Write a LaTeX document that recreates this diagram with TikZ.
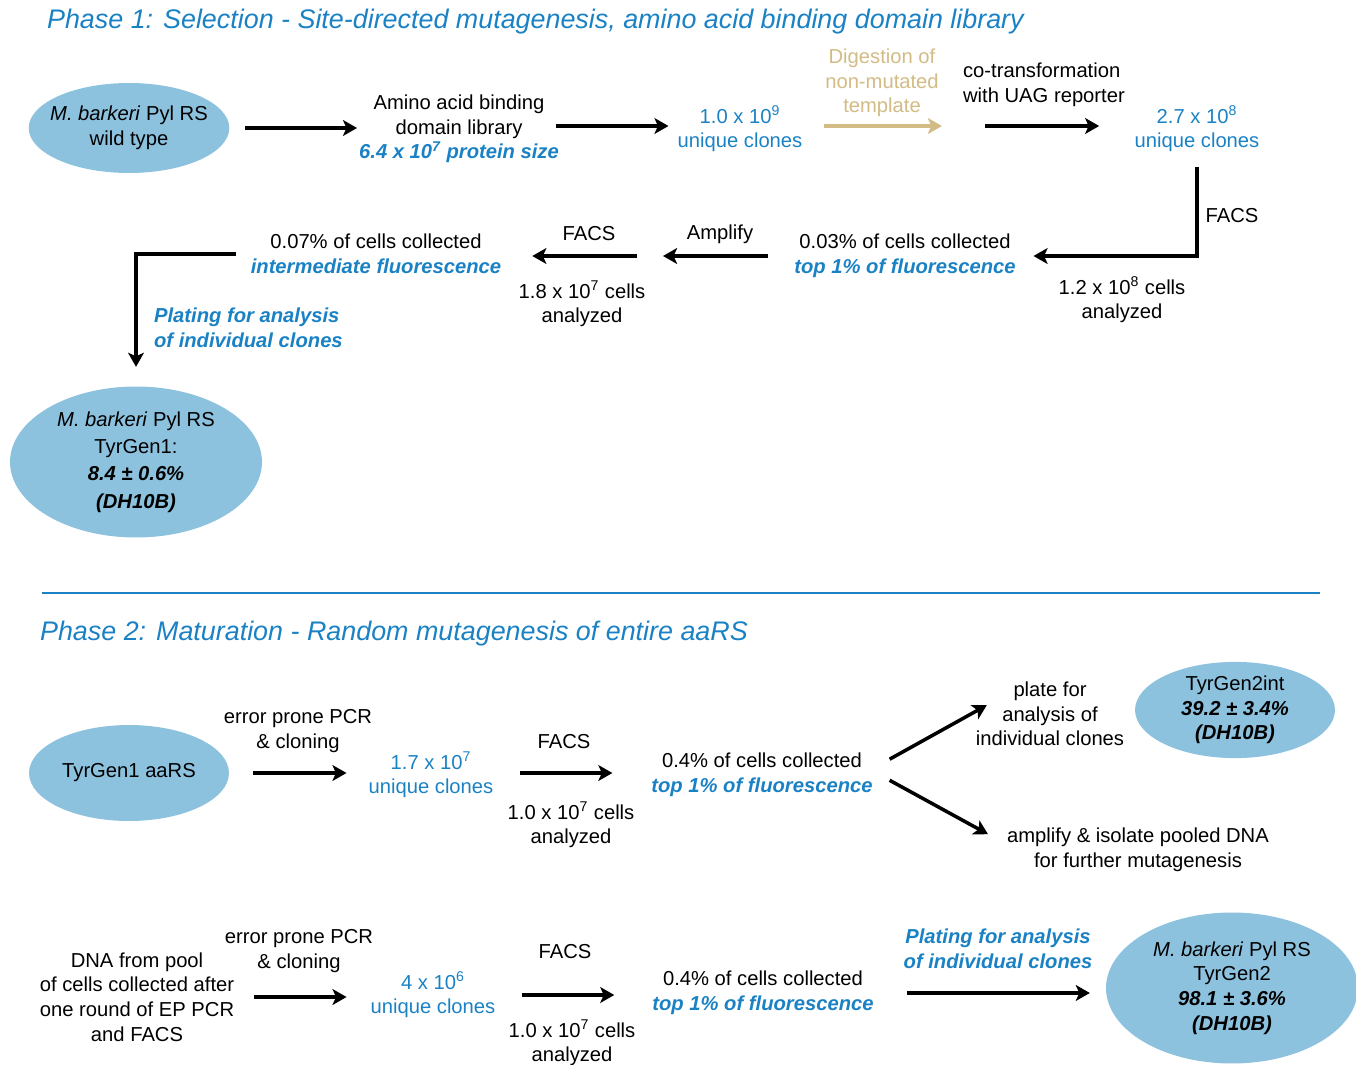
\documentclass[tikz,border=0pt]{standalone}
\usepackage{fontspec}
\setmainfont{Liberation Sans}
\usetikzlibrary{positioning,arrows.meta,shapes.geometric}
\definecolor{phblue}{HTML}{1A82C4}
\definecolor{cellblue}{HTML}{8DC2DF}
\definecolor{digtan}{HTML}{D2BB84}
\tikzset{
    every node/.style={font=\fontsize{11.5}{14}\selectfont,inner sep=1pt,align=center},
    phase/.style={font=\fontsize{15.3}{18}\selectfont\itshape,text=phblue,anchor=west},
    num/.style={text=phblue},
    blit/.style={text=phblue,font=\fontsize{11.5}{14}\selectfont\bfseries\itshape},
    cell/.style={ellipse,fill=cellblue,inner sep=0pt,minimum width=4cm,minimum height=1.8cm},
    bigcell/.style={cell,minimum width=5.04cm,minimum height=3.02cm},
    flow/.style={line width=2pt,-{Stealth[length=8pt,width=9pt,inset=2pt]}},
    digflow/.style={flow,draw=digtan},
    divider/.style={draw=phblue,line width=1.2pt}
}
\newcommand{\hilite}[1]{\textcolor{phblue}{\bfseries\itshape #1}}

\begin{document}
\begin{tikzpicture}[x=0.02cm,y=-0.02cm]
\useasboundingbox (0,0) rectangle (1356,1065);
% phase 1
\node[phase] (t1) at (45,22) {Phase 1: Selection - Site-directed mutagenesis, amino acid binding domain library};
\node[cell,inner xsep=-4.5pt] (wt) at (129,128) {\textit{M. barkeri} Pyl RS\\wild type};
\node (lib) at (459,129) {Amino acid binding\\domain library\\\hilite{6.4 x 10\textsuperscript{7} protein size}};
\node[num] (lib1) at (740,129) {1.0 x 10\textsuperscript{9}\\unique clones};
\coordinate (dig) at (963,126);
\node[text=digtan] (digl) at (882,83) {Digestion of\\non-mutated\\template};
\node[align=left,anchor=west] (cotr) at (961,85) {co-transformation\\with UAG reporter};
\node[num] (lib2) at (1197,129) {2.7 x 10\textsuperscript{8}\\unique clones};
\draw[flow,shorten <=9pt] (wt.east) -- (wt.east -| lib.west);
\draw[flow,shorten <=-3pt,shorten >=4pt] (lib.east |- dig) -- (dig -| lib1.west);
\draw[digflow,shorten <=11pt,shorten >=12pt] (lib1.east |- dig) -- (dig);
\draw[flow,shorten <=12.5pt,shorten >=19pt] (dig) -- (dig -| lib2.west);

\node (sel1) at (905,256) {0.03\% of cells collected\\\hilite{top 1\% of fluorescence}};
\node (facs1) at (1232,216) {FACS};
\node (cnt1) at (1122,300) {1.2 x 10\textsuperscript{8} cells\\analyzed};
\draw[flow,shorten <=7pt,shorten >=9pt] (lib2.south) |- (sel1.east);

\coordinate (amp) at (650,256);
\node (ampl) at (720,234) {Amplify};
\node (facs2) at (589,234) {FACS};
\node (cnt2) at (582,304) {1.8 x 10\textsuperscript{7} cells\\analyzed};
\node (sel2) at (376,254) {0.07\% of cells collected\\\hilite{intermediate fluorescence}};
\draw[flow,shorten <=14pt,shorten >=7.4pt] (sel1.west |- amp) -- (amp);
\draw[flow,shorten <=7.4pt,shorten >=16.5pt] (amp) -- (amp -| sel2.east);

\node[blit,align=left,anchor=west] (plate1) at (152,328) {Plating for analysis\\of individual clones};
\node[bigcell,font=\fontsize{11.5}{15.5}\selectfont] (tg1) at (136,462) {\textit{M. barkeri} Pyl RS\\TyrGen1:\\\textbf{\textit{8.4 ± 0.6\%}}\\\textbf{\textit{(DH10B)}}};
\draw[flow,shorten <=7pt,shorten >=11pt] (sel2.west) -| (tg1.north);

\draw[divider] (42,593) -- (1320,593);

% phase 2
\node[phase] (t2) at (38,634) {Phase 2: Maturation - Random mutagenesis of entire aaRS};
\node[cell,minimum height=1.92cm] (tga) at (129,773) {TyrGen1 aaRS};
\node (ep1) at (298,731) {error prone PCR\\\& cloning};
\node[num] (cl3) at (431,775) {1.7 x 10\textsuperscript{7}\\unique clones};
\node (facs3) at (564,742) {FACS};
\node (cnt3) at (571,825) {1.0 x 10\textsuperscript{7} cells\\analyzed};
\node (sel3) at (762,775) {0.4\% of cells collected\\\hilite{top 1\% of fluorescence}};
\node (plate2) at (1050,714) {plate for\\analysis of\\individual clones};
\node[cell,minimum height=1.92cm] (tg2i) at (1235,710) {TyrGen2int\\\textbf{\textit{39.2 ± 3.4\%}}\\\textbf{\textit{(DH10B)}}};
\node (amp2) at (1138,850) {amplify \& isolate pooled DNA\\for further mutagenesis};
\draw[flow,shorten <=13.7pt,shorten >=11.4pt] (tga.east) -- (tga.east -| cl3.west);
\draw[flow,shorten <=14pt,shorten >=21pt] (cl3.east |- tga.east) -- (tga.east -| sel3.west);
\draw[flow] ([shift={(8.5pt,9pt)}]sel3.east) -- ([shift={(7.4pt,5pt)}]plate2.west);
\draw[flow] ([shift={(8.5pt,-3pt)}]sel3.east) -- ([shift={(-9.7pt,9pt)}]amp2.west);

\node (pool) at (137,997) {DNA from pool\\of cells collected after\\one round of EP PCR\\and FACS};
\node (ep2) at (299,951) {error prone PCR\\\& cloning};
\node[num] (cl4) at (433,995) {4 x 10\textsuperscript{6}\\unique clones};
\node (facs4) at (565,952) {FACS};
\node (cnt4) at (572,1043) {1.0 x 10\textsuperscript{7} cells\\analyzed};
\node (sel4) at (763,993) {0.4\% of cells collected\\\hilite{top 1\% of fluorescence}};
\node[blit] (plate3) at (998,949) {Plating for analysis\\of individual clones};
\node[bigcell] (tg2) at (1232,988) {\textit{M. barkeri} Pyl RS\\TyrGen2\\\textbf{\textit{98.1 ± 3.6\%}}\\\textbf{\textit{(DH10B)}}};
\draw[flow,shorten <=10pt,shorten >=12.5pt] (pool.east) -- (pool.east -| cl4.west);
\draw[flow,shorten <=14pt,shorten >=20.5pt] (cl4.east) -- (cl4.east -| sel4.west);
\draw[flow,shorten <=17.6pt,shorten >=9pt] (sel4.east) -- (sel4.east -| tg2.west);
\end{tikzpicture}
\end{document}
